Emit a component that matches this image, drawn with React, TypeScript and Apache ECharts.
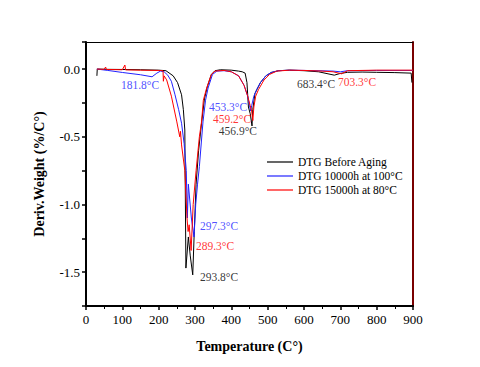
import React, { useEffect, useRef } from "react";
import * as echarts from "echarts";

const FONT = "Liberation Serif";

const blackT = [30, 31, 60, 100, 150, 200, 220, 240, 252, 263, 268, 272, 275, 281.7, 287, 293.8, 298, 303, 310, 318, 326, 334, 345, 355, 370, 400, 420, 430, 438, 443, 447, 452, 456.9, 459, 465, 480, 495, 510, 530, 560, 600, 640, 683.4, 700, 720, 760, 800, 850, 895, 897];
const blackV = [-0.05, 0.0, -0.002, -0.003, -0.005, -0.008, -0.012, -0.05, -0.1, -0.19, -0.3, -0.45, -1.47, -1.24, -1.38, -1.52, -1.2, -0.85, -0.6, -0.4, -0.22, -0.13, -0.04, -0.012, -0.005, -0.008, -0.015, -0.02, -0.03, -0.1, -0.28, -0.33, -0.42, -0.3, -0.18, -0.1, -0.05, -0.025, -0.012, -0.008, -0.012, -0.02, -0.045, -0.032, -0.024, -0.022, -0.024, -0.026, -0.03, -0.1];

const blueT = [30, 60, 100, 150, 181.8, 195, 205, 215, 225, 235, 245, 255, 263, 270, 276, 279, 281.7, 290, 297.3, 302, 307, 312, 322, 329, 336, 348, 360, 380, 400, 420, 435, 445, 450, 453.3, 456, 462, 470, 480, 495, 510, 530, 560, 600, 680, 700, 720, 800, 900];
const blueV = [0.0, -0.01, -0.025, -0.042, -0.057, -0.03, -0.015, -0.02, -0.045, -0.09, -0.19, -0.3, -0.4, -0.55, -0.75, -1.1, -0.85, -1.1, -1.24, -1.0, -0.85, -0.72, -0.39, -0.23, -0.14, -0.04, -0.015, -0.012, -0.02, -0.05, -0.12, -0.2, -0.27, -0.31, -0.27, -0.2, -0.15, -0.1, -0.05, -0.025, -0.012, -0.008, -0.01, -0.015, -0.02, -0.012, -0.01, -0.01];

const redT = [30, 50, 54, 56, 100, 107, 109, 150, 200, 212, 213, 215, 222, 235, 250, 258, 260, 263, 272, 278, 281, 284, 289.3, 295, 303, 312, 318, 323, 332, 345, 355, 380, 400, 420, 435, 445, 452, 456, 459.2, 462, 467, 475, 490, 505, 525, 560, 600, 650, 680, 703.3, 720, 800, 900];
const redV = [0.0, -0.002, 0.015, -0.003, -0.005, 0.03, -0.006, -0.008, -0.01, -0.012, -0.09, -0.05, -0.08, -0.2, -0.39, -0.5, -0.46, -0.56, -0.75, -1.1, -1.2, -1.15, -1.34, -1.0, -0.75, -0.5, -0.39, -0.23, -0.14, -0.04, -0.015, -0.01, -0.02, -0.05, -0.12, -0.2, -0.27, -0.31, -0.38, -0.28, -0.2, -0.15, -0.08, -0.04, -0.015, -0.008, -0.01, -0.015, -0.02, -0.035, -0.012, -0.008, -0.008];

const seriesNames = ["DTG Before Aging", "DTG 10000h at 100°C", "DTG 15000h at 80°C"];
const seriesColors = ["#000000", "#2222ff", "#ff0000"];

// annotation labels: [text, temperature, value, colorIndex]
const annText = ["181.8°C", "453.3°C", "459.2°C", "456.9°C", "683.4°C", "703.3°C", "297.3°C", "289.3°C", "293.8°C"];
const annT = [148.6, 391, 402, 418, 633, 746, 366, 355, 366];
const annV = [-0.118, -0.28, -0.37, -0.458, -0.11, -0.096, -1.16, -1.307, -1.536];
const annColor = [1, 1, 2, 0, 0, 2, 1, 2, 0];

const xTicks = [0, 100, 200, 300, 400, 500, 600, 700, 800, 900];

function zip(t: number[], v: number[]) {
  return t.map((x, i) => [x, v[i]]);
}

export default function App() {
  const ref = useRef<HTMLDivElement>(null);
  useEffect(() => {
    if (!ref.current) return;
    const chart = echarts.init(ref.current, null, { renderer: "svg" });
    const lines = [zip(blackT, blackV), zip(blueT, blueV), zip(redT, redV)].map((d, i) => ({
      name: seriesNames[i],
      type: "line",
      data: d,
      symbol: "none",
      lineStyle: { width: 1, color: seriesColors[i] },
      itemStyle: { color: seriesColors[i] },
      z: 3 + i,
    }));
    const ann = {
      type: "scatter",
      symbolSize: 0,
      silent: true,
      z: 10,
      data: annText.map((t, i) => ({
        value: [annT[i], annV[i]],
        label: {
          show: true,
          position: "inside",
          formatter: t,
          color: seriesColors[annColor[i]],
          fontFamily: FONT,
          fontSize: 11.5,
        },
      })),
    };
    chart.setOption({
      animation: false,
      backgroundColor: "#ffffff",
      textStyle: { fontFamily: FONT },
      grid: { left: 86, right: 67, top: 42, bottom: 61, show: false },
      legend: {
        data: seriesNames,
        orient: "vertical",
        left: 267,
        top: 156,
        padding: 0,
        icon: "path://M0,0 L26,0 L26,1.2 L0,1.2 Z",
        itemWidth: 26,
        itemHeight: 1.2,
        itemGap: 2,
        textStyle: { fontFamily: FONT, fontSize: 11.5, color: "#000", lineHeight: 12 },
      },
      xAxis: [
        {
          type: "value",
          min: 0,
          max: 900,
          interval: 100,
          name: "Temperature (C°)",
          nameLocation: "middle",
          nameGap: 33,
          nameTextStyle: { fontFamily: FONT, fontSize: 14, fontWeight: "bold", color: "#000" },
          axisLine: { show: true, onZero: false, lineStyle: { color: "#000", width: 2 } },
          axisTick: { show: true, length: 4, lineStyle: { color: "#000", width: 1.5 } },
          minorTick: { show: true, splitNumber: 2, length: 3, lineStyle: { color: "#000" } },
          splitLine: { show: false },
          axisLabel: {
            fontFamily: FONT,
            fontSize: 13,
            color: "#000",
            margin: 7,
            formatter: (v: number) => (xTicks.includes(v) ? String(v) : ""),
          },
        },
        {
          type: "value",
          min: 0,
          max: 900,
          position: "top",
          axisLine: { show: true, onZero: false, lineStyle: { color: "#000", width: 1 } },
          axisTick: { show: false },
          axisLabel: { show: false },
          splitLine: { show: false },
        },
      ],
      yAxis: [
        {
          type: "value",
          min: -1.75,
          max: 0.2,
          interval: 0.25,
          name: "Deriv.Weight (%/C°)",
          nameLocation: "middle",
          nameGap: 40,
          nameTextStyle: { fontFamily: FONT, fontSize: 14, fontWeight: "bold", color: "#000" },
          axisLine: { show: true, onZero: false, lineStyle: { color: "#000", width: 2 } },
          axisTick: { show: true, length: 4, lineStyle: { color: "#000", width: 1.5 } },
          splitLine: { show: false },
          axisLabel: {
            fontFamily: FONT,
            fontSize: 13,
            color: "#000",
            margin: 6,
            formatter: (v: number) => {
              const k = v / 0.5;
              if (Math.abs(k - Math.round(k)) < 1e-6 && v <= 0.001) return v.toFixed(1);
              return "";
            },
          },
        },
        {
          type: "value",
          min: -1.75,
          max: 0.2,
          position: "right",
          axisLine: { show: true, onZero: false, lineStyle: { color: "#7a0000", width: 2 } },
          axisTick: { show: false },
          axisLabel: { show: false },
          splitLine: { show: false },
        },
      ],
      series: [...lines, ann],
    });
    return () => chart.dispose();
  }, []);
  return <div ref={ref} style={{ position: "absolute", left: 0, top: 0, width: 480, height: 367 }} />;
}
